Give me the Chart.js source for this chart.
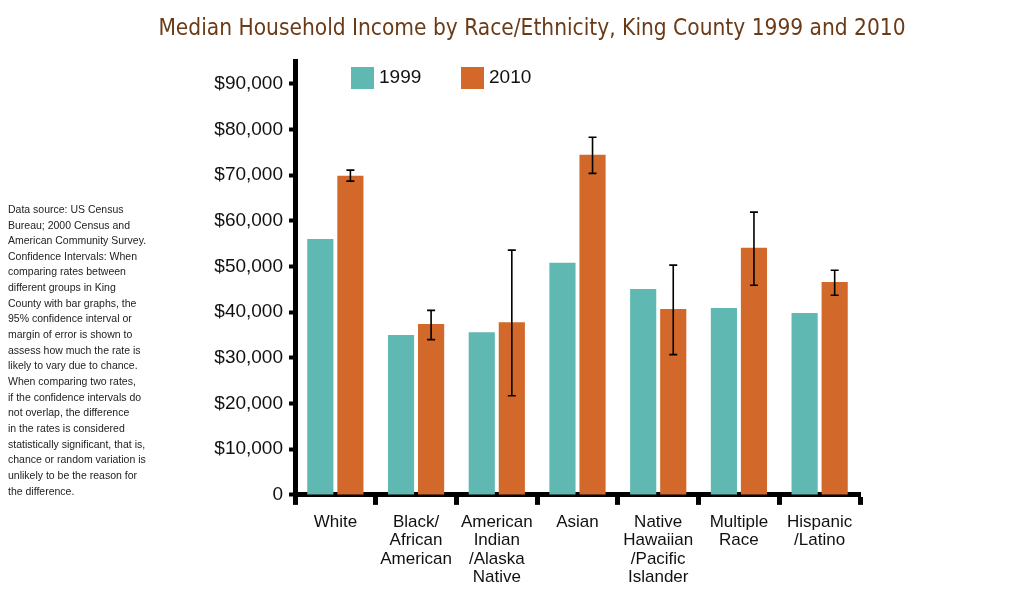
<!DOCTYPE html>
<html>
<head>
<meta charset="utf-8">
<script src="https://cdn.jsdelivr.net/npm/chart.js@4/dist/chart.umd.min.js"></script>
<style>
html,body{margin:0;padding:0;background:#fff;}
#wrap{position:relative;width:1028px;height:599px;}
</style>
</head>
<body>
<div id="wrap"><canvas id="c"></canvas></div>
<script>
const categories = [
  ["White"],
  ["Black/","African","American"],
  ["American","Indian","/Alaska","Native"],
  ["Asian"],
  ["Native","Hawaiian","/Pacific","Islander"],
  ["Multiple","Race"],
  ["Hispanic","/Latino"]
];
const seriesNames = ["1999", "2010"];
const income1999 = [56000, 35000, 35600, 50800, 45100, 40900, 39800];
const income2010 = [69900, 37400, 37800, 74500, 40700, 54100, 46600];
const ci2010Low  = [68700, 34000, 21700, 70400, 30700, 45900, 43700];
const ci2010High = [71100, 40400, 53600, 78300, 50300, 61900, 49200];
const yTickValues = [0, 10000, 20000, 30000, 40000, 50000, 60000, 70000, 80000, 90000];
const noteLines = [
  "Data source: US Census",
  "Bureau; 2000 Census and",
  "American Community Survey.",
  "Confidence Intervals: When",
  "comparing rates between",
  "different groups in King",
  "County with bar graphs, the",
  "95% confidence interval or",
  "margin of error is shown to",
  "assess how much the rate is",
  "likely to vary due to chance.",
  "When comparing two rates,",
  "if the confidence intervals do",
  "not overlap, the difference",
  "in the rates is considered",
  "statistically significant, that is,",
  "chance or random variation is",
  "unlikely to be the reason for",
  "the difference."
];
const titleText = "Median Household Income by Race/Ethnicity, King County 1999 and 2010";
const colors = ["#5fb8b1", "#d2682a"];

const errorBarPlugin = {
  id: 'errorBars',
  afterDatasetsDraw(chart) {
    const meta = chart.getDatasetMeta(1);
    const y = chart.scales.y;
    const ctx = chart.ctx;
    ctx.save();
    ctx.strokeStyle = '#000';
    ctx.lineWidth = 1.6;
    meta.data.forEach((bar, i) => {
      const x = bar.x;
      const yl = y.getPixelForValue(ci2010Low[i]);
      const yh = y.getPixelForValue(ci2010High[i]);
      ctx.beginPath();
      ctx.moveTo(x, yl); ctx.lineTo(x, yh);
      ctx.moveTo(x - 4, yl); ctx.lineTo(x + 4, yl);
      ctx.moveTo(x - 4, yh); ctx.lineTo(x + 4, yh);
      ctx.stroke();
    });
    ctx.restore();
  }
};

const legendNotePlugin = {
  id: 'legendNote',
  afterDraw(chart) {
    const ctx = chart.ctx;
    const a = chart.chartArea;
    ctx.save();
    const lx = [a.left + 56, a.left + 166];
    ctx.font = '19px "Liberation Sans", Arial, sans-serif';
    ctx.textBaseline = 'middle';
    ctx.textAlign = 'left';
    seriesNames.forEach((n, i) => {
      ctx.fillStyle = colors[i];
      ctx.fillRect(lx[i], a.top + 6, 23, 22);
      ctx.fillStyle = '#111';
      ctx.fillText(n, lx[i] + 28, a.top + 17);
    });
    ctx.font = '10.5px "Liberation Sans", Arial, sans-serif';
    ctx.fillStyle = '#222';
    noteLines.forEach((t, i) => {
      ctx.fillText(t, 8, 210 + i * 15.65);
    });
    ctx.restore();
  }
};

new Chart(document.getElementById('c'), {
  type: 'bar',
  data: {
    labels: categories,
    datasets: [
      { label: seriesNames[0], data: income1999, backgroundColor: colors[0], yAxisID: 'y' },
      { label: seriesNames[1], data: income2010, backgroundColor: colors[1], yAxisID: 'y' }
    ]
  },
  options: {
    responsive: true,
    maintainAspectRatio: false,
    animation: false,
    devicePixelRatio: 1,
    events: [],
    categoryPercentage: 0.745,
    barPercentage: 0.87,
    layout: { padding: { left: 36, right: 0, top: 0, bottom: 4 } },
    plugins: {
      legend: { display: false },
      tooltip: { enabled: false },
      title: {
        display: true,
        text: titleText,
        color: '#6b3a16',
        font: { family: '"Liberation Sans Narrow", "DejaVu Sans Condensed", sans-serif', size: 22.5, weight: 'normal' },
        padding: { top: 16, bottom: 18 }
      }
    },
    scales: {
      x: {
        grid: { drawOnChartArea: false, offset: true, tickLength: 10, tickWidth: 5, tickColor: '#000' },
        border: { display: true, color: '#000', width: 5 },
        ticks: {
          color: '#111',
          font: { family: '"Liberation Sans", Arial, sans-serif', size: 17, lineHeight: 1.09 },
          padding: 8,
          maxRotation: 0,
          autoSkip: false
        }
      },
      y: {
        position: 'left',
        min: 0,
        max: 95000,
        afterFit(scale) { scale.width = 259; },
        afterBuildTicks(scale) { scale.ticks = yTickValues.map(v => ({ value: v })); },
        grid: { drawOnChartArea: false, tickLength: 6, tickWidth: 4, tickColor: '#000' },
        border: { display: true, color: '#000', width: 5 },
        ticks: {
          color: '#111',
          padding: 6,
          font: { family: '"Liberation Sans", Arial, sans-serif', size: 19 },
          callback(v) {
            if (v === 0) return '0';
            return '$' + v.toLocaleString('en-US');
          }
        }
      },
      yRight: {
        position: 'right',
        display: true,
        min: 0,
        max: 1,
        afterFit(scale) { scale.width = 168; },
        grid: { display: false },
        border: { display: false },
        ticks: { display: false }
      }
    }
  },
  plugins: [errorBarPlugin, legendNotePlugin]
});
</script>
</body>
</html>
